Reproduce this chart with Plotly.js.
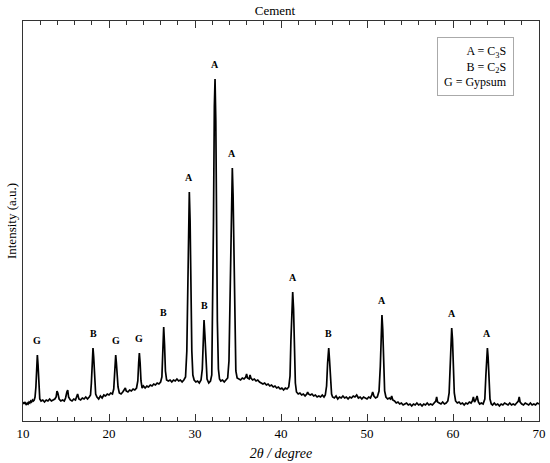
<!DOCTYPE html>
<html>
<head>
<meta charset="utf-8">
<script src="https://cdn.plot.ly/plotly-3.0.1.min.js"></script>
<style>html,body{margin:0;padding:0;background:#fff;}#chart{width:550px;height:463px;}</style>
</head>
<body>
<div id="chart"></div>
<script>
// XRD pattern of cement (arbitrary intensity units)
const twoTheta = [
10.0,10.1,10.2,10.3,10.4,10.5,10.6,10.7,10.8,10.9,11.0,11.1,11.2,11.3,11.4,
11.5,11.6,11.67,11.75,11.85,11.95,
12.1,12.3,12.5,12.7,12.9,13.1,13.3,13.5,13.7,13.85,13.95,14.05,14.2,14.4,14.6,14.8,14.95,15.1,15.2,15.3,15.5,15.7,15.9,16.1,16.25,16.35,16.5,16.7,16.9,17.1,17.3,17.5,17.7,17.85,
17.95,18.05,18.14,18.22,18.32,18.45,
18.6,18.8,19.0,19.2,19.4,19.6,19.8,20.0,20.2,20.4,
20.55,20.65,20.72,20.78,20.86,20.95,21.05,
21.2,21.4,21.6,21.8,21.9,22.0,22.2,22.4,22.6,22.8,23.0,23.2,
23.35,23.45,23.53,23.62,23.72,23.85,
24.0,24.2,24.4,24.6,24.8,25.0,25.2,25.4,25.6,25.8,26.0,
26.15,26.25,26.36,26.46,26.56,26.7,
26.9,27.1,27.3,27.5,27.7,27.9,28.1,28.3,28.5,28.7,28.9,
29.05,29.15,29.25,29.34,29.43,29.53,29.63,29.75,
29.9,30.1,30.3,30.5,30.7,
30.85,30.95,31.05,31.15,31.27,31.4,
31.6,31.8,31.95,
32.05,32.15,32.25,32.33,32.42,32.5,32.6,32.72,
32.85,33.0,33.2,33.4,33.6,33.8,
33.95,34.05,34.15,34.25,34.34,34.43,34.53,34.63,34.75,
34.9,35.1,35.3,35.5,35.7,35.9,36.0,36.1,36.3,36.4,36.5,36.7,36.9,37.1,37.3,37.5,37.7,37.9,38.1,38.3,38.5,38.7,38.9,39.1,39.3,39.5,39.7,39.9,40.1,40.3,40.5,40.7,40.9,
41.05,41.15,41.25,41.36,41.46,41.56,41.67,
41.8,42.0,42.2,42.4,42.6,42.8,43.0,43.1,43.2,43.4,43.6,43.8,44.0,44.2,44.4,44.6,44.8,45.0,45.15,
45.3,45.42,45.55,45.65,45.75,45.88,
46.0,46.2,46.4,46.6,46.8,47.0,47.2,47.4,47.6,47.8,48.0,48.2,48.4,48.6,48.8,49.0,49.2,49.4,49.6,49.8,50.0,50.2,50.4,50.55,50.66,50.8,51.0,51.2,
51.4,51.55,51.65,51.74,51.83,51.93,52.05,
52.2,52.4,52.6,52.75,52.87,53.0,53.2,53.4,53.6,53.8,54.0,54.2,54.4,54.6,54.8,55.0,55.2,55.4,55.6,55.8,56.0,56.2,56.4,56.6,56.8,57.0,57.2,57.4,57.6,57.8,58.0,58.1,58.2,58.4,58.6,58.8,59.0,59.2,59.4,
59.55,59.67,59.77,59.85,59.94,60.04,60.15,
60.3,60.5,60.7,60.9,61.1,61.3,61.5,61.7,61.9,62.1,62.25,62.37,62.5,62.65,62.8,62.95,63.1,63.3,63.5,
63.7,63.82,63.92,64.0,64.08,64.18,64.3,
64.45,64.6,64.8,65.0,65.2,65.4,65.6,65.8,66.0,66.2,66.4,66.6,66.8,67.0,67.2,67.4,67.6,67.7,67.8,68.0,68.2,68.4,68.6,68.8,69.0,69.2,69.4,69.6,69.8,70.0
];
const intensity = [
19,17,19,18,16,18,17,19,18,20,19,21,20,21,24,
34,58,66,56,32,22,
20,21,19,21,20,22,20,21,22,24,30,28,22,20,21,20,23,29,31,24,21,20,22,21,25,27,22,21,23,22,24,22,24,26,
38,62,73,64,40,27,
24,22,25,23,26,25,27,26,28,27,
32,48,62,66,58,44,34,
28,27,29,31,33,30,29,31,30,32,31,33,
40,58,68,58,40,33,
35,33,35,34,36,35,37,36,38,37,39,
44,72,94,76,50,41,
40,41,39,41,40,42,40,41,39,41,44,
70,140,205,229,200,130,70,46,
41,39,40,38,41,
52,85,101,86,55,42,
38,40,46,
100,200,315,342,300,190,100,52,
42,40,41,39,41,43,
60,110,190,240,253,225,150,80,50,
43,42,41,43,42,44,47,43,42,46,43,41,42,40,41,39,38,37,38,36,37,35,36,34,35,33,34,32,33,31,33,32,34,
45,80,118,129,112,70,38,
29,27,28,26,27,25,27,29,27,26,27,25,26,24,25,24,26,24,26,
35,58,73,60,38,27,
24,23,25,22,24,23,25,23,24,22,24,23,25,24,26,23,24,22,24,23,22,24,23,26,29,25,23,24,
30,55,92,106,92,55,30,
24,22,23,22,25,21,20,18,19,17,18,16,17,18,16,17,15,17,16,18,16,17,15,17,16,18,16,17,16,18,20,24,19,18,17,19,17,18,20,
28,60,86,93,82,52,28,
20,18,19,17,18,16,18,17,19,18,20,24,19,21,25,19,17,18,17,
22,45,66,73,64,40,22,
17,16,18,16,17,15,17,16,18,17,16,18,16,17,16,18,20,24,19,17,16,18,17,16,18,16,17,16,18,17
];
const peakPos = [11.67,18.14,20.78,23.53,26.36,29.34,31.05,32.33,34.34,41.36,45.55,51.74,59.85,64.0];
const peakLabels = ['G','B','G','G','B','A','B','A','A','A','B','A','A','A'];
const legendLines = ['A = C<sub>3</sub>S','B = C<sub>2</sub>S','G = Gypsum'];
const xTicks = [10,20,30,40,50,60,70];

const serif = 'Liberation Serif, Times New Roman, serif';

const annotations = peakPos.map((p, i) => {
  const k = twoTheta.indexOf(p);
  return {
    x: p, y: intensity[k], xref: 'x', yref: 'y',
    text: '<b>' + peakLabels[i] + '</b>', showarrow: false,
    yanchor: 'middle', yshift: 15,
    font: {family: serif, size: 10, color: '#000'}
  };
});
annotations.push({
  xref: 'paper', yref: 'paper', x: 0.9516, y: 0.96,
  xanchor: 'right', yanchor: 'top', align: 'right',
  text: legendLines.join('<br>'), showarrow: false,
  bordercolor: '#aaaaaa', borderwidth: 1, borderpad: 6, bgcolor: '#fff',
  font: {family: serif, size: 12, color: '#000'}
});

const trace = {
  x: twoTheta, y: intensity, type: 'scatter', mode: 'lines',
  line: {color: '#000', width: 1.7}, hoverinfo: 'skip'
};

const layout = {
  width: 550, height: 463,
  margin: {l: 23, r: 11, t: 21, b: 42},
  paper_bgcolor: '#fff', plot_bgcolor: '#fff',
  showlegend: false,
  title: {text: 'Cement', x: 0.5, xanchor: 'center', y: 0.978, yanchor: 'middle',
          font: {family: serif, size: 13, color: '#000'}},
  xaxis: {
    range: [10, 70], tickvals: xTicks, ticktext: xTicks.map(String),
    ticks: 'inside', ticklen: 7, tickwidth: 1, tickcolor: '#333',
    minor: {dtick: 2, tick0: 10, ticks: 'inside', ticklen: 4, tickcolor: '#333'},
    showline: true, linecolor: '#333', linewidth: 1, mirror: 'ticks',
    showgrid: false, zeroline: false,
    tickfont: {family: serif, size: 13, color: '#000'},
    title: {text: '<i>2θ / degree</i>', standoff: 8, font: {family: serif, size: 14, color: '#000'}}
  },
  yaxis: {
    range: [0, 400], showticklabels: false, ticks: '',
    showline: true, linecolor: '#333', linewidth: 1, mirror: true,
    showgrid: false, zeroline: false,
    title: {text: 'Intensity (a.u.)', standoff: 2, font: {family: serif, size: 13, color: '#000'}}
  },
  annotations: annotations
};

Plotly.newPlot('chart', [trace], layout, {displayModeBar: false, staticPlot: true});
</script>
</body>
</html>
